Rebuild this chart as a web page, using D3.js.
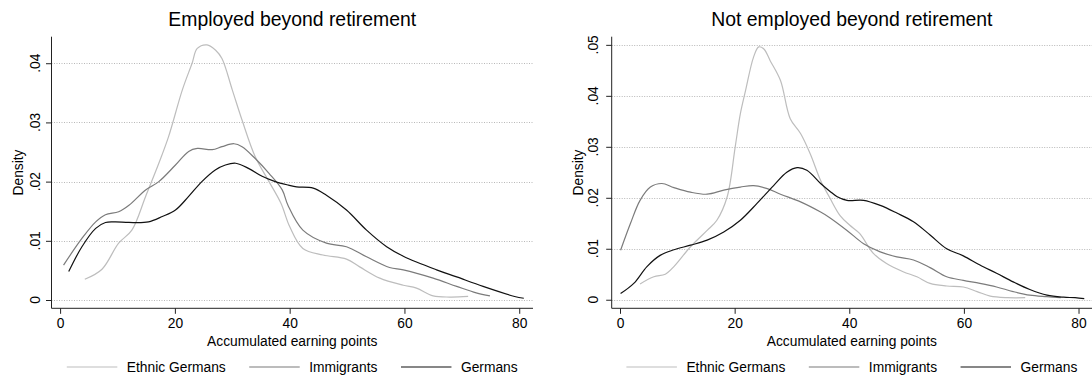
<!DOCTYPE html>
<html>
<head>
<meta charset="utf-8">
<script src="https://cdn.jsdelivr.net/npm/d3@7"></script>
<style>
  body { margin: 0; background: #fff; }
  svg { display: block; }
  text { font-family: "Liberation Sans", Arial, Helvetica, sans-serif; fill: #000; }
</style>
</head>
<body>
<svg id="chart" width="1092" height="376"></svg>
<script>
// Groups shown in each panel, in drawing order
const groups = ["Ethnic Germans", "Immigrants", "Germans"];
const groupColors = ["#bdbdbd", "#7b7b7b", "#111111"];

// Axis ticks
const xTicks = [0, 20, 40, 60, 80];
const yTicksEmployed = [0, 0.01, 0.02, 0.03, 0.04];
const yTicksNotEmployed = [0, 0.01, 0.02, 0.03, 0.04, 0.05];

// Kernel density estimates: [accumulated earning points, density]
const employedEthnic = [
  [4.3,.0035],[7.3,.0052],[10.2,.0096],[12.5,.0118],[14.9,.0175],[17.2,.0231],[18.9,.0276],
  [21.3,.0355],[23.0,.0400],[23.9,.0425],[25.6,.0431],[27.1,.0422],[28.2,.0408],[30.0,.0355],
  [31.7,.0304],[34.0,.0242],[36.4,.0200],[38.5,.0163],[40.0,.0124],[42.3,.0087],[45.8,.0076],
  [49.9,.0069],[52.2,.0056],[55.7,.0037],[59.8,.0025],[62.1,.0020],[65.0,.0007],[67.9,.0005],[71.1,.0006]
];
const employedImmigrants = [
  [0.6,.0059],[3.8,.0104],[6.2,.0132],[7.9,.0144],[10.2,.0149],[12.0,.0160],[14.9,.0186],
  [17.2,.0200],[20.1,.0228],[22.4,.0251],[23.9,.0256],[26.5,.0254],[28.2,.0259],[30.3,.0264],
  [31.7,.0259],[34.0,.0239],[36.4,.0214],[38.7,.0186],[39.7,.0160],[42.3,.0118],[46.4,.0096],
  [49.9,.0090],[53.4,.0073],[57.4,.0055],[59.8,.0051],[65.0,.0037],[69.1,.0023],[72.5,.0012],[74.9,.0007]
];
const employedGermans = [
  [1.5,.0048],[3.8,.0090],[6.2,.0121],[7.9,.0131],[9.6,.0132],[12.0,.0131],[15.4,.0132],
  [17.8,.0141],[20.1,.0152],[22.4,.0175],[24.7,.0200],[27.1,.0220],[28.8,.0228],[30.6,.0231],
  [32.9,.0222],[35.2,.0209],[37.5,.0200],[39.8,.0194],[41.2,.0191],[44.1,.0189],[46.4,.0177],
  [49.9,.0152],[53.4,.0118],[56.9,.0090],[59.8,.0074],[65.6,.0051],[69.1,.0039],[73.7,.0023],
  [79.2,.0006],[80.8,.0003]
];
const notEmployedEthnic = [
  [3.5,.0031],[5.9,.0045],[7.9,.0050],[9.4,.0065],[12.3,.0104],[15.2,.0136],[16.9,.0156],
  [18.7,.0202],[20.1,.0300],[21.0,.0365],[21.9,.0410],[23.3,.0476],[24.2,.0496],[25.1,.0492],
  [26.2,.0469],[28.0,.0430],[29.7,.0355],[31.5,.0326],[33.2,.0286],[35.0,.0234],[36.6,.0200],
  [38.4,.0165],[40.1,.0146],[41.8,.0130],[44.2,.0091],[46.5,.0071],[49.4,.0055],[51.8,.0045],
  [54.1,.0032],[57.0,.0027],[59.9,.0025],[62.3,.0016],[64.6,.0007],[67.6,.0004],[70.7,.0004]
];
const notEmployedImmigrants = [
  [0.1,.0097],[1.8,.0149],[3.5,.0195],[5.3,.0221],[7.3,.0228],[9.4,.0220],[12.3,.0211],
  [15.2,.0207],[18.1,.0215],[21.0,.0221],[23.3,.0224],[25.7,.0218],[28.0,.0207],[31.5,.0192],
  [35.0,.0172],[36.6,.0161],[39.6,.0136],[42.5,.0110],[45.4,.0094],[48.3,.0084],[51.2,.0078],
  [54.1,.0063],[57.0,.0045],[59.9,.0038],[62.8,.0032],[65.7,.0025],[68.6,.0016],[71.5,.0009],
  [74.5,.0006],[76.9,.0004]
];
const notEmployedGermans = [
  [0.1,.0012],[2.4,.0032],[4.7,.0065],[7.0,.0087],[9.4,.0098],[12.3,.0107],[15.2,.0117],
  [18.1,.0133],[21.0,.0156],[23.9,.0189],[26.8,.0224],[29.1,.0250],[30.9,.0259],[32.6,.0254],
  [35.0,.0228],[36.6,.0213],[37.9,.0202],[39.6,.0195],[42.5,.0195],[45.4,.0185],[48.3,.0170],
  [51.2,.0153],[54.1,.0127],[57.0,.0100],[59.9,.0086],[62.8,.0068],[65.7,.0052],[68.6,.0035],
  [71.5,.0020],[74.5,.0009],[77.4,.0005],[79.4,.0004],[81.0,.0002]
];

// Panel layout
const panels = [
  {
    title: "Employed beyond retirement",
    series: [employedEthnic, employedImmigrants, employedGermans],
    yTicks: yTicksEmployed,
    left: 51.5, right: 533, top: 36.7, bottom: 308.3,
    xDomain: [-1.5, 82.4], yDomain: [-0.0014, 0.04448],
    tickLabelX: 40, densityX: 23
  },
  {
    title: "Not employed beyond retirement",
    series: [notEmployedEthnic, notEmployedImmigrants, notEmployedGermans],
    yTicks: yTicksNotEmployed,
    left: 611.7, right: 1092, top: 36.7, bottom: 308.3,
    xDomain: [-1.45, 82.35], yDomain: [-0.00168, 0.0516],
    tickLabelX: 598, densityX: 583
  }
];

const svg = d3.select("#chart");
const fmtY = d => d === 0 ? "0" : d3.format(".2f")(d).replace(/^0/, "");
const fontSize = 13.8;

panels.forEach(p => {
  const x = d3.scaleLinear().domain(p.xDomain).range([p.left, p.right]);
  const y = d3.scaleLinear().domain(p.yDomain).range([p.bottom, p.top]);
  const g = svg.append("g");
  const cx = (p.left + p.right) / 2;

  // dotted horizontal grid
  g.append("g").selectAll("line").data(p.yTicks).join("line")
    .attr("x1", p.left).attr("x2", p.right)
    .attr("y1", d => Math.round(y(d)) + 0.5).attr("y2", d => Math.round(y(d)) + 0.5)
    .attr("stroke", "#b8b8b8").attr("stroke-width", 1).attr("stroke-dasharray", "1,1.5");

  // density curves
  const line = d3.line().x(d => x(d[0])).y(d => y(d[1])).curve(d3.curveCatmullRom.alpha(0.5));
  p.series.forEach((s, i) => {
    g.append("path").datum(s).attr("d", line)
      .attr("fill", "none").attr("stroke", groupColors[i]).attr("stroke-width", 1.2)
      .attr("stroke-linejoin", "round");
  });

  // y axis
  const yAxis = d3.axisLeft(y).tickValues(p.yTicks).tickSize(5.5).tickFormat("");
  const ya = g.append("g").attr("transform", `translate(${p.left},0)`).call(yAxis);
  ya.select(".domain").attr("d", `M0,${p.top}V${p.bottom}`).attr("stroke", "#222");
  ya.selectAll(".tick line").attr("stroke", "#222");
  g.append("g").selectAll("text").data(p.yTicks).join("text")
    .attr("transform", d => `translate(${p.tickLabelX},${y(d)}) rotate(-90)`)
    .attr("text-anchor", "middle").attr("font-size", fontSize)
    .text(fmtY);
  g.append("text")
    .attr("transform", `translate(${p.densityX},${(p.top + p.bottom) / 2}) rotate(-90)`)
    .attr("text-anchor", "middle").attr("font-size", fontSize).text("Density");

  // x axis
  const xAxis = d3.axisBottom(x).tickValues(xTicks).tickSize(5.5).tickSizeOuter(0).tickPadding(5);
  const xa = g.append("g").attr("transform", `translate(0,${p.bottom})`).call(xAxis);
  xa.select(".domain").attr("d", `M${p.left},0H${p.right}`).attr("stroke", "#222");
  xa.selectAll(".tick line").attr("stroke", "#222");
  xa.selectAll(".tick text").attr("font-size", fontSize).attr("font-family", null)
    .attr("y", null).attr("dy", null).attr("transform", "translate(0,20)");
  g.append("text").attr("x", cx).attr("y", 346).attr("text-anchor", "middle")
    .attr("font-size", fontSize).text("Accumulated earning points");

  // title
  g.append("text").attr("x", cx).attr("y", 25.5).attr("text-anchor", "middle")
    .attr("font-size", 19.4).text(p.title);

  // legend, centred under the plot
  const lg = g.append("g");
  const lineLen = 50.5, lineGap = 9.5, itemGap = 23.5;
  const items = lg.selectAll("g").data(groups).join("g");
  items.append("line").attr("x1", 0).attr("x2", lineLen).attr("y1", 0).attr("y2", 0)
    .attr("stroke", (d, i) => groupColors[i]).attr("stroke-width", 1.2);
  items.append("text").attr("x", lineLen + lineGap).attr("y", 5).attr("font-size", fontSize).text(d => d);
  let offset = 0;
  const widths = [];
  items.each(function () {
    const w = lineLen + lineGap + d3.select(this).select("text").node().getComputedTextLength();
    widths.push(w);
  });
  const total = d3.sum(widths) + itemGap * (widths.length - 1);
  items.attr("transform", (d, i) => {
    const t = `translate(${cx - total / 2 + offset},367)`;
    offset += widths[i] + itemGap;
    return t;
  });
});
</script>
</body>
</html>
